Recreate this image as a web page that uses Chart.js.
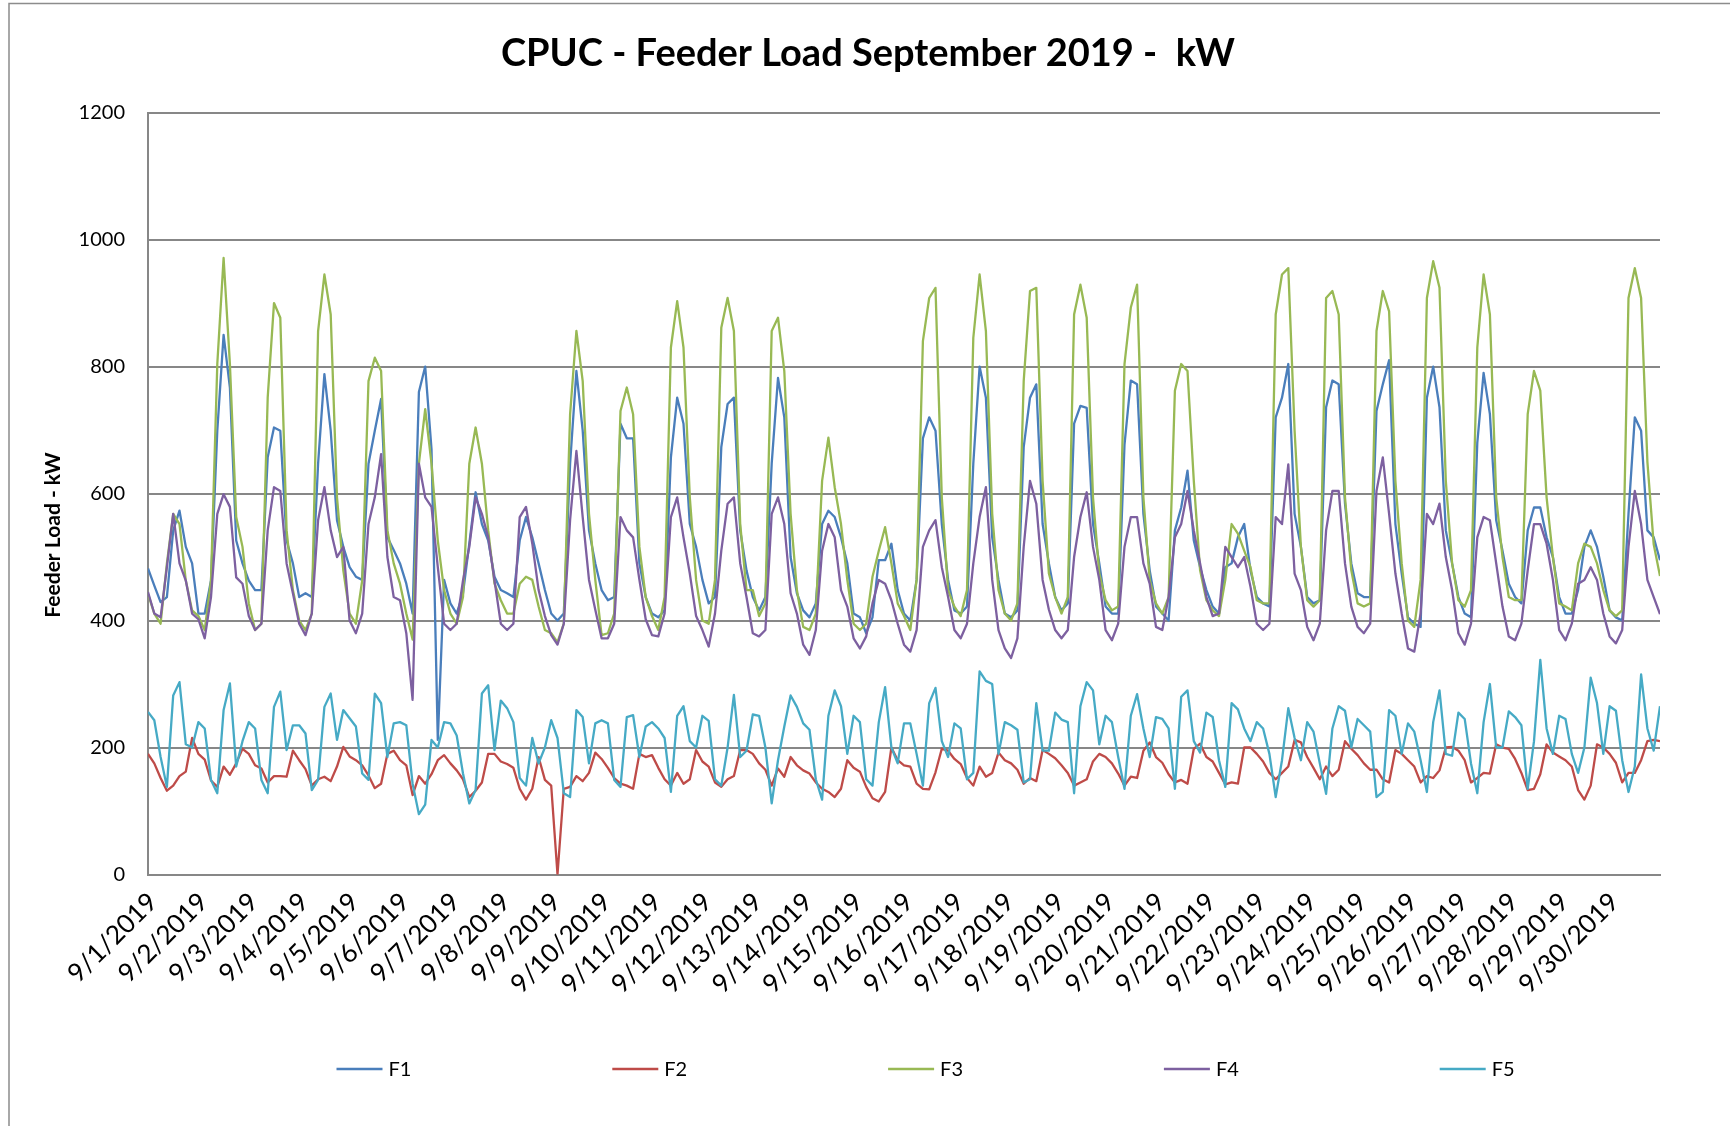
<!DOCTYPE html>
<html><head><meta charset="utf-8">
<script src="https://cdn.jsdelivr.net/npm/chart.js@4.4.1/dist/chart.umd.min.js"></script>
<style>html,body{margin:0;padding:0;background:#fff;}canvas{display:block;}</style>
</head><body>
<canvas id="c" width="1730" height="1126"></canvas>
<script>
// ---------- DATA (3-hourly readings, 8 per day + final reading) ----------
const chartTitle = 'CPUC - Feeder Load September 2019 -  kW';
const yAxisTitle = 'Feeder Load - kW';
const seriesNames = ['F1', 'F2', 'F3', 'F4', 'F5'];
const dayLabels = ['9/1/2019','9/2/2019','9/3/2019','9/4/2019','9/5/2019','9/6/2019','9/7/2019','9/8/2019','9/9/2019','9/10/2019',
  '9/11/2019','9/12/2019','9/13/2019','9/14/2019','9/15/2019','9/16/2019','9/17/2019','9/18/2019','9/19/2019','9/20/2019',
  '9/21/2019','9/22/2019','9/23/2019','9/24/2019','9/25/2019','9/26/2019','9/27/2019','9/28/2019','9/29/2019','9/30/2019'];
const yTicks = [0, 200, 400, 600, 800, 1000, 1200];
const samplesPerDay = 8;

const F1 = [
482,455,429,437,542,573,516,490,
411,411,463,699,850,767,526,490,
463,448,448,657,704,699,526,490,
437,443,437,647,788,699,558,516,
484,469,464,647,699,749,531,511,
490,458,411,760,800,670,212,464,
427,411,443,521,602,552,526,469,
448,443,437,526,563,531,490,448,
411,400,411,647,793,699,542,490,
448,432,437,710,687,687,490,437,
411,405,416,657,751,710,552,516,
464,427,437,673,741,751,542,479,
437,416,437,647,782,720,500,443,
416,405,427,552,573,563,531,490,
411,405,380,405,495,495,521,448,
411,400,464,687,720,699,552,464,
416,411,422,647,800,751,531,464,
411,405,416,673,751,772,552,490,
437,416,427,710,738,735,552,490,
422,411,411,677,778,772,568,479,
422,411,400,542,578,636,526,484,
448,422,411,484,490,531,552,479,
437,427,422,720,751,804,568,516,
437,427,432,736,778,772,584,490,
443,437,437,730,772,810,552,474,
405,395,390,751,800,736,542,490,
437,411,405,680,790,725,558,510,
458,437,427,542,578,578,531,500,
437,411,411,448,516,542,516,469,
416,405,400,568,720,699,542,531,
495];

const F2 = [
190,175,152,132,140,155,162,215,
190,181,148,138,170,157,175,198,
190,172,167,145,155,155,154,195,
180,166,140,150,154,147,170,201,
186,180,172,156,136,143,190,195,
180,172,125,155,143,158,180,188,
175,164,150,122,132,145,190,190,
178,174,168,135,118,135,185,149,
140,0,135,138,155,147,160,192,
182,168,152,143,140,135,190,185,
188,168,150,140,160,143,150,196,
178,170,145,138,150,155,196,196,
190,175,165,140,167,154,185,172,
164,159,145,135,130,122,135,180,
168,162,138,120,115,130,200,180,
172,170,143,135,134,161,198,195,
182,174,152,140,170,154,160,192,
180,175,165,143,152,147,196,190,
183,172,160,140,145,150,178,190,
185,175,159,140,154,152,195,208,
185,176,158,145,149,143,198,206,
185,178,160,142,145,143,200,200,
190,178,160,150,160,170,212,208,
185,168,150,170,155,165,210,198,
188,175,165,165,150,145,196,190,
180,170,145,155,152,164,200,201,
195,180,145,152,160,159,205,200,
198,182,160,133,135,158,205,192,
186,180,170,133,118,140,205,200,
190,176,145,160,160,180,210,212,
210];

const F3 = [
442,411,395,490,568,552,463,416,
407,385,463,804,971,804,563,516,
427,385,395,751,900,877,542,448,
400,385,411,856,945,882,594,479,
411,395,463,777,814,793,542,490,
458,411,370,647,733,647,526,448,
411,395,437,647,704,647,542,458,
432,411,411,458,469,464,422,385,
380,366,395,725,856,777,568,464,
377,380,411,730,767,725,516,437,
407,385,437,830,903,830,594,464,
400,395,464,861,908,856,552,448,
448,407,427,856,877,793,568,448,
390,385,411,620,688,610,552,464,
395,385,395,469,510,547,490,427,
407,385,464,840,908,924,594,448,
422,407,448,845,945,856,568,448,
411,400,427,777,919,924,620,474,
437,411,437,882,929,877,594,474,
432,416,422,804,893,929,594,464,
427,411,437,762,804,793,620,479,
432,416,407,464,552,537,510,484,
432,427,427,882,945,955,699,516,
432,422,432,908,919,882,594,479,
427,422,427,856,919,887,620,490,
400,390,464,908,966,924,620,490,
432,422,448,830,945,882,594,500,
437,432,432,725,793,762,594,500,
427,422,416,490,521,516,490,448,
416,407,416,908,955,908,650,520,
470];

const F4 = [
445,411,405,484,568,490,463,411,
402,372,437,568,599,579,468,458,
407,385,395,542,610,604,490,443,
395,377,411,558,610,542,500,516,
400,380,411,552,594,662,500,437,
432,380,275,647,594,579,484,395,
385,395,463,516,594,568,531,463,
395,385,395,563,579,521,448,407,
377,362,395,558,667,563,464,417,
372,372,395,563,542,531,464,402,
377,375,411,563,594,531,474,407,
385,359,411,510,584,594,490,437,
380,375,385,568,594,552,443,411,
362,346,385,510,552,531,448,422,
372,356,375,427,464,458,432,395,
362,351,385,516,542,558,484,437,
385,372,395,490,563,610,464,385,
356,341,372,516,620,584,464,417,
385,372,385,500,563,602,516,464,
385,369,395,516,563,563,490,458,
390,385,437,531,552,604,542,490,
437,407,411,516,500,484,500,453,
395,385,395,563,552,646,474,448,
390,369,395,542,604,604,490,422,
390,380,395,604,657,568,474,411,
356,351,411,568,552,584,500,448,
380,362,395,531,563,558,490,422,
375,369,395,479,552,552,521,464,
385,369,395,458,464,484,464,411,
375,364,385,516,604,552,464,437,
410];

const F5 = [
256,243,185,138,282,303,205,200,
240,230,149,128,259,301,170,210,
240,230,149,128,264,288,196,235,
235,222,133,149,264,285,212,259,
246,233,159,149,285,270,185,238,
240,235,143,95,110,212,200,240,
238,219,159,112,133,285,298,196,
274,262,240,152,140,215,175,200,
243,215,128,122,259,248,175,238,
243,238,149,138,248,251,185,233,
240,230,215,130,250,265,210,200,
250,242,150,140,200,283,185,195,
252,250,200,112,180,233,282,264,
238,228,150,118,250,290,265,190,
250,240,150,140,240,295,200,175,
238,238,190,140,270,294,210,185,
238,230,150,160,320,305,300,190,
240,235,228,145,150,270,195,195,
255,244,240,128,265,303,290,205,
250,240,185,135,250,284,230,185,
248,245,230,135,280,290,210,192,
255,248,180,138,270,260,230,210,
240,230,190,122,180,262,215,180,
240,225,175,127,230,265,258,200,
245,235,225,122,130,259,250,190,
238,225,180,130,240,290,190,187,
255,245,175,128,240,300,200,200,
257,248,235,135,210,338,230,190,
250,245,190,160,200,310,270,190,
265,258,180,130,170,315,230,195,
265];

// ---------- STYLE ----------
const seriesColors = ['#4a7ebb', '#be4b48', '#98b954', '#7d60a0', '#46aac5'];
const FONT = 'Lato, "Open Sans", sans-serif';
const gridGray = '#878787';

const allSeries = [F1, F2, F3, F4, F5];
const toPoints = arr => arr.map((v, i) => ({ x: i / samplesPerDay, y: v }));

const datasets = allSeries.map((arr, k) => ({
  label: seriesNames[k],
  data: toPoints(arr),
  borderColor: seriesColors[k],
  backgroundColor: seriesColors[k],
  borderWidth: 2.3,
  pointRadius: 0,
  tension: 0,
  fill: false,
  borderJoinStyle: 'round',
  order: 5 - k
}));

const overlay = {
  id: 'overlay',
  afterDraw(chart) {
    const ctx = chart.ctx;
    // outer chart border
    ctx.save();
    ctx.strokeStyle = '#8c8c8c';
    ctx.lineWidth = 1.5;
    ctx.beginPath();
    ctx.moveTo(9, 1126); ctx.lineTo(9, 3.5); ctx.lineTo(1730, 3.5);
    ctx.stroke();
    ctx.restore();
    // y axis title
    ctx.save();
    ctx.translate(53, 535);
    ctx.rotate(-Math.PI / 2);
    ctx.font = 'bold 21px ' + FONT;
    ctx.fillStyle = '#000';
    ctx.textAlign = 'center';
    ctx.textBaseline = 'middle';
    ctx.fillText(yAxisTitle, 0, 0);
    ctx.restore();
    // legend
    ctx.save();
    ctx.font = '20px ' + FONT;
    ctx.textBaseline = 'middle';
    ctx.textAlign = 'left';
    const y = 1069;
    seriesNames.forEach((name, k) => {
      const x0 = 336.5 + k * 275.8;
      ctx.strokeStyle = seriesColors[k];
      ctx.lineWidth = 2.3;
      ctx.beginPath(); ctx.moveTo(x0, y); ctx.lineTo(x0 + 46, y); ctx.stroke();
      ctx.fillStyle = '#000';
      ctx.fillText(name, x0 + 52, y + 1);
    });
    ctx.restore();
  }
};

new Chart(document.getElementById('c'), {
  type: 'line',
  data: { datasets },
  plugins: [overlay],
  options: {
    responsive: false,
    animation: false,
    events: [],
    layout: { padding: { left: 10, right: 4, top: 10, bottom: 0 } },
    plugins: {
      legend: { display: false },
      tooltip: { enabled: false },
      title: {
        display: true,
        text: chartTitle,
        color: '#000',
        font: { family: FONT, size: 38, weight: 'bold' },
        padding: { top: 21, bottom: 36 }
      }
    },
    scales: {
      x: {
        type: 'linear',
        min: 0,
        max: dayLabels.length,
        afterBuildTicks: s => { s.ticks = dayLabels.map((_, i) => ({ value: i })); },
        afterFit: s => { s.height = 251.5; },
        grid: { display: false, drawTicks: false },
        border: { display: true, color: gridGray, width: 2 },
        ticks: {
          autoSkip: false,
          maxRotation: 45,
          minRotation: 45,
          padding: 12,
          labelOffset: 5,
          color: '#000',
          font: { family: FONT, size: 26 },
          callback: (v, i) => dayLabels[i]
        }
      },
      y: {
        min: 0,
        max: 1200,
        afterBuildTicks: s => { s.ticks = yTicks.map(v => ({ value: v })); },
        afterFit: s => { s.width = 138; },
        grid: { color: gridGray, lineWidth: 2, drawTicks: false },
        border: { display: true, color: gridGray, width: 2 },
        ticks: { padding: 23, color: '#000', font: { family: FONT, size: 20 }, callback: v => String(v) }
      },
      yPad: {
        position: 'right',
        min: 0, max: 1,
        afterFit: s => { s.width = 66; },
        grid: { display: false, drawTicks: false },
        border: { display: false },
        ticks: { display: false }
      }
    }
  }
});
</script>
</body></html>
